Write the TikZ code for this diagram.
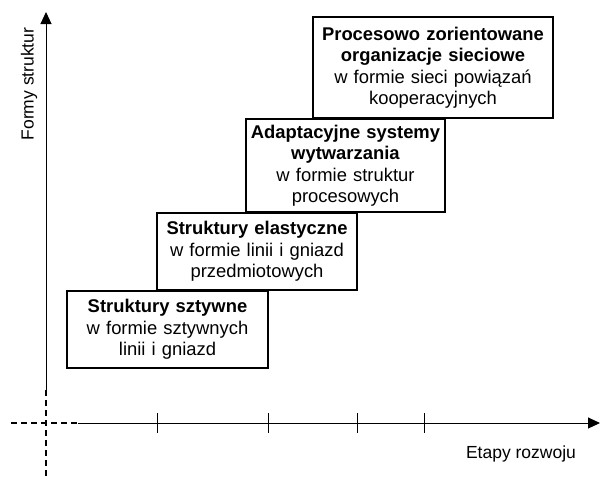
\documentclass[tikz,border=0pt]{standalone}
\usepackage{fontspec}
\setmainfont{Liberation Sans}
\usetikzlibrary{arrows.meta}
\begin{document}
\begin{tikzpicture}[x=1pt,y=-1pt,
  stage/.style={draw,line width=1.6pt,inner sep=0pt,align=center,
    font=\fontsize{18.4}{21.5}\selectfont},
  axis/.style={line width=1pt},
  dashaxis/.style={line width=1.8pt,dash pattern=on 6pt off 4pt},
  tip/.style={-{Triangle[length=12pt,width=11pt]}},
  tick/.style={line width=1pt},
  lbl/.style={font=\fontsize{17.5}{21}\selectfont,inner sep=0pt}]
\useasboundingbox (0,0) rectangle (601,477);
% axes
\coordinate (o) at (46,423);
\coordinate (ytop) at (46,12);
\coordinate (ydash) at (46,390);
\coordinate (ybot) at (46,477);
\coordinate (xleft) at (11,423);
\coordinate (xdash) at (78,423);
\coordinate (xend) at (600,423);
\draw[axis,tip] (ydash) -- (ytop);
\draw[dashaxis] (ydash) -- (ybot);
\draw[dashaxis] (xleft) -- (xdash);
\draw[axis,tip] (xdash) -- (xend);
\foreach \t in {157,268,357,424}
  \draw[tick] (\t,413) -- (\t,433);
\node[lbl,rotate=90] (ylab) at (29,84) {Formy struktur};
\node[lbl,anchor=base] (xlab) at (521,458) {Etapy rozwoju};
% stages
\node[stage,minimum width=201pt,minimum height=77pt,text width=201pt] (s1) at (167.5,329.5)
  {\textbf{Struktury sztywne}\\w formie sztywnych\\linii i gniazd};
\node[stage,minimum width=200pt,minimum height=77pt,text width=200pt] (s2) at (257,251.5)
  {\textbf{Struktury elastyczne}\\w formie linii i gniazd\\przedmiotowych};
\node[stage,minimum width=199pt,minimum height=93pt,text width=199pt] (s3) at (345.5,165.5)
  {\textbf{Adaptacyjne systemy}\\\textbf{wytwarzania}\\w formie struktur\\procesowych};
\node[stage,minimum width=240pt,minimum height=101pt,text width=240pt] (s4) at (433,67.5)
  {\textbf{Procesowo zorientowane}\\\textbf{organizacje sieciowe}\\w formie sieci powiązań\\kooperacyjnych};
\end{tikzpicture}
\end{document}
